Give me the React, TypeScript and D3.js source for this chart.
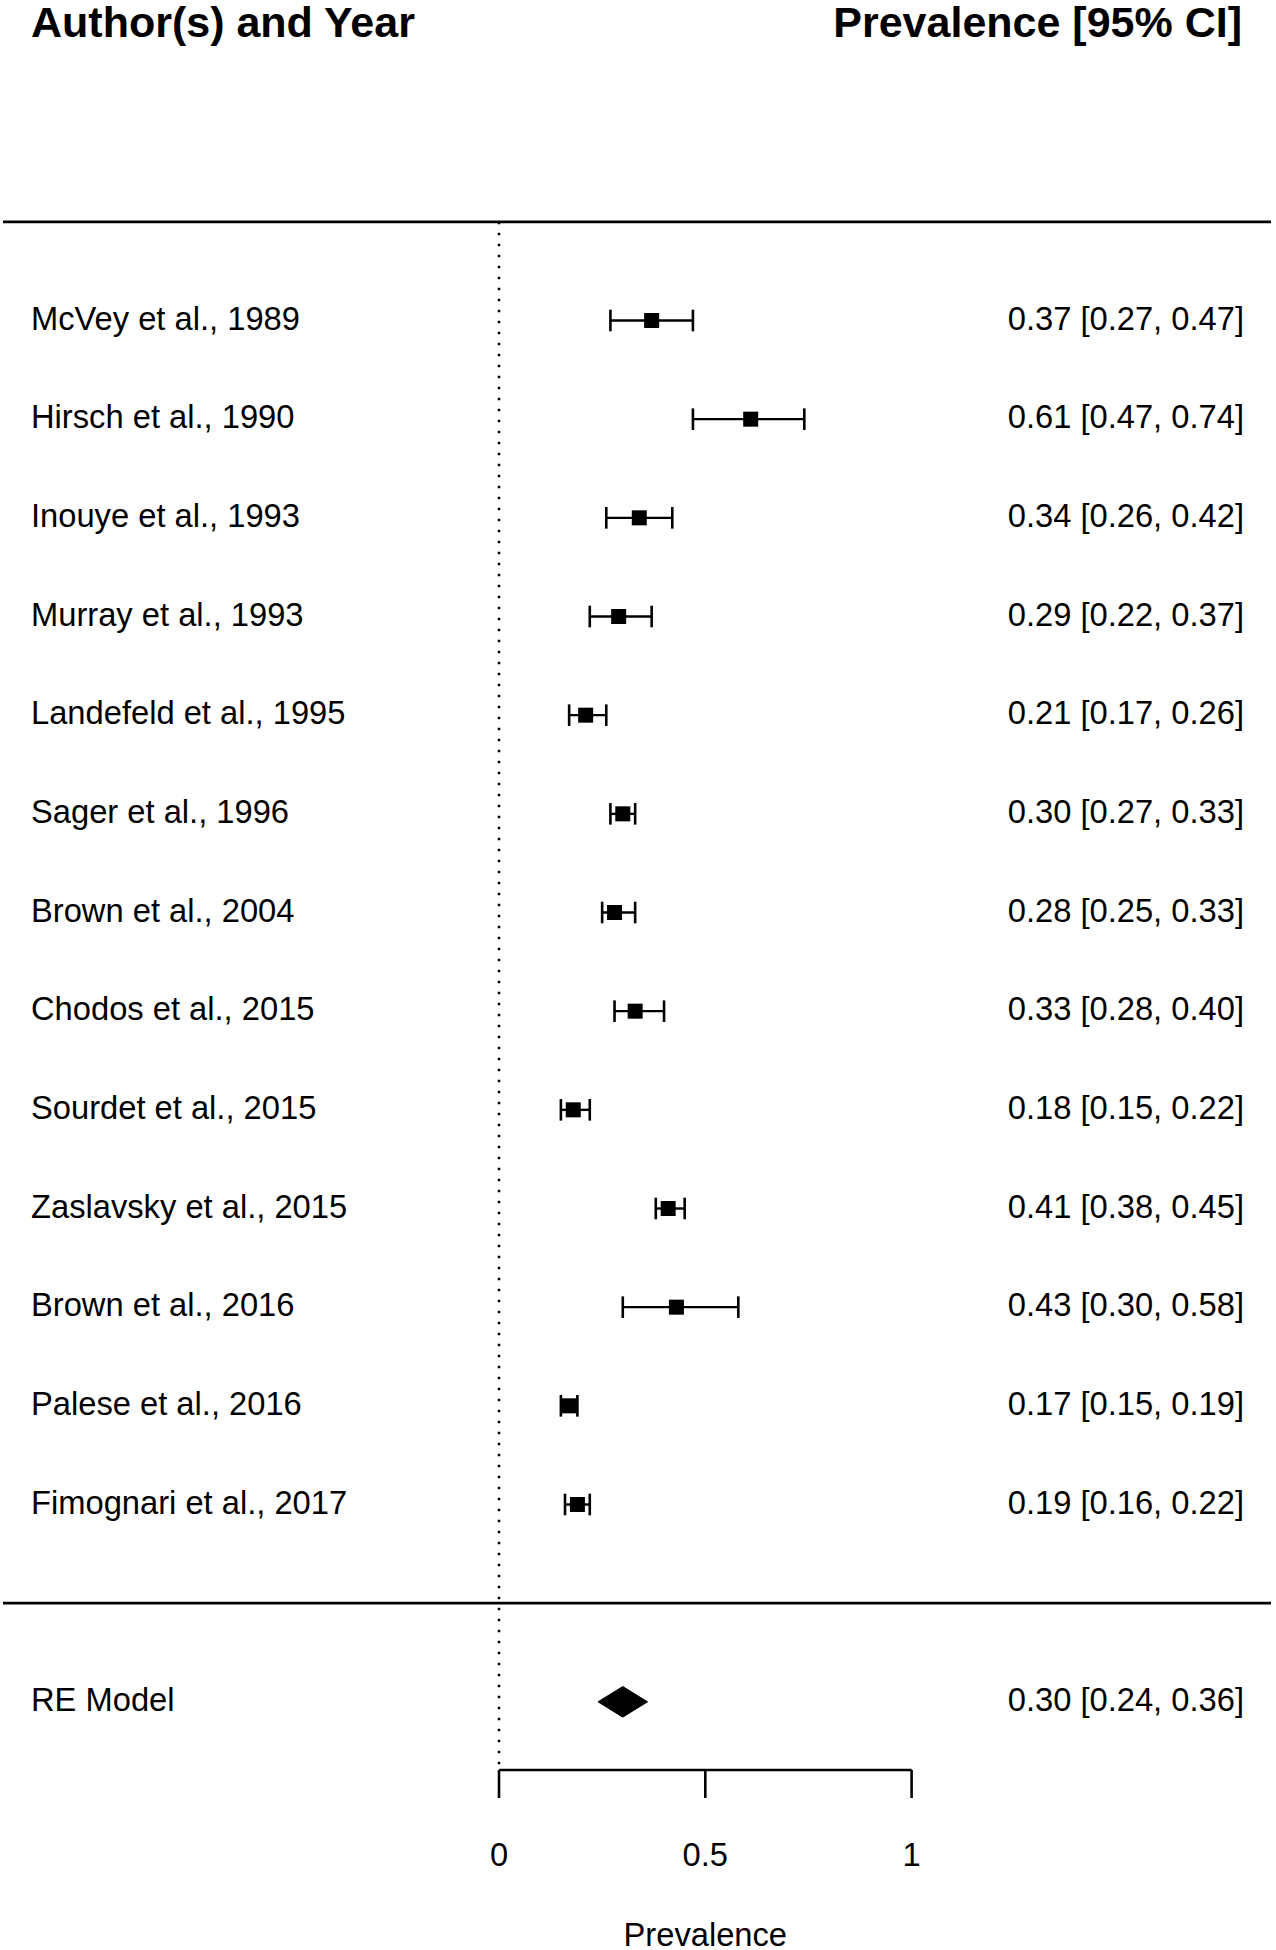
import React from "react";
import * as d3 from "d3";

const studies = [
  "McVey et al., 1989",
  "Hirsch et al., 1990",
  "Inouye et al., 1993",
  "Murray et al., 1993",
  "Landefeld et al., 1995",
  "Sager et al., 1996",
  "Brown et al., 2004",
  "Chodos et al., 2015",
  "Sourdet et al., 2015",
  "Zaslavsky et al., 2015",
  "Brown et al., 2016",
  "Palese et al., 2016",
  "Fimognari et al., 2017",
];
const estimates = [0.37, 0.61, 0.34, 0.29, 0.21, 0.30, 0.28, 0.33, 0.18, 0.41, 0.43, 0.17, 0.19];
const lowers = [0.27, 0.47, 0.26, 0.22, 0.17, 0.27, 0.25, 0.28, 0.15, 0.38, 0.30, 0.15, 0.16];
const uppers = [0.47, 0.74, 0.42, 0.37, 0.26, 0.33, 0.33, 0.40, 0.22, 0.45, 0.58, 0.19, 0.22];
const reModel = { label: "RE Model", est: 0.30, lo: 0.24, hi: 0.36 };
const xTicks = [0, 0.5, 1];
const xTickLabels = ["0", "0.5", "1"];

const W = 1276;
const H = 1950;
const FONT = "'Liberation Sans', Arial, Helvetica, sans-serif";

export default function App() {
  const k = studies.length;
  const x = d3.scaleLinear().domain([0, 1]).range([499, 911.6]);
  // rows: study i at row k - i, RE model at row -1
  const y = d3.scaleLinear().domain([13, 1]).range([320.5, 1504.5]);
  const fmt = d3.format(".2f");
  const axisY = 1770;
  const sq = 15;
  const capH = 10.8;
  const lw = 2.4;
  const leftX = 31;
  const rightX = 1244;
  const fs = 32.7;
  const tOff = 9;

  const reY = y(-1);
  const diamond = d3.line()([
    [x(reModel.lo), reY],
    [x(reModel.est), reY - 15.3],
    [x(reModel.hi), reY],
    [x(reModel.est), reY + 15.3],
  ]) + "Z";

  return (
    <svg
      width={W}
      height={H}
      style={{ position: "absolute", left: 0, top: 0, background: "#fff" }}
      fontFamily={FONT}
    >
      <rect x={0} y={0} width={W} height={H} fill="#fff" />
      {/* headers */}
      <text x={leftX} y={37} fontSize={43} fontWeight="bold" fill="#000">
        Author(s) and Year
      </text>
      <text x={1242} y={37} fontSize={43} fontWeight="bold" fill="#000" textAnchor="end">
        Prevalence [95% CI]
      </text>

      {/* horizontal separator lines */}
      <line x1={3} x2={1271} y1={y(k + 1)} y2={y(k + 1)} stroke="#000" strokeWidth={2.8} />
      <line x1={3} x2={1271} y1={y(0)} y2={y(0)} stroke="#000" strokeWidth={2.8} />

      {/* dotted reference line */}
      <line
        x1={x(0)}
        x2={x(0)}
        y1={y(k + 1)}
        y2={axisY}
        stroke="#000"
        strokeWidth={2.5}
        strokeDasharray="2.5 8.5"
      />

      {studies.map((s, i) => {
        const row = k - i;
        const cy = y(row);
        return (
          <g key={s}>
            <text x={leftX} y={cy + tOff} fontSize={fs} fill="#000">
              {s}
            </text>
            <text x={rightX} y={cy + tOff} fontSize={fs} fill="#000" textAnchor="end">
              {`${fmt(estimates[i])} [${fmt(lowers[i])}, ${fmt(uppers[i])}]`}
            </text>
            <line x1={x(lowers[i])} x2={x(uppers[i])} y1={cy} y2={cy} stroke="#000" strokeWidth={lw} />
            <line x1={x(lowers[i])} x2={x(lowers[i])} y1={cy - capH} y2={cy + capH} stroke="#000" strokeWidth={2.6} />
            <line x1={x(uppers[i])} x2={x(uppers[i])} y1={cy - capH} y2={cy + capH} stroke="#000" strokeWidth={2.6} />
            <rect x={x(estimates[i]) - sq / 2} y={cy - sq / 2} width={sq} height={sq} fill="#000" />
          </g>
        );
      })}

      {/* RE model */}
      <text x={leftX} y={reY + tOff} fontSize={fs} fill="#000">
        {reModel.label}
      </text>
      <text x={rightX} y={reY + tOff} fontSize={fs} fill="#000" textAnchor="end">
        {`${fmt(reModel.est)} [${fmt(reModel.lo)}, ${fmt(reModel.hi)}]`}
      </text>
      <path d={diamond} fill="#000" stroke="#000" strokeWidth={1} />

      {/* x axis */}
      <line x1={x(0)} x2={x(1)} y1={axisY} y2={axisY} stroke="#000" strokeWidth={2.6} />
      {xTicks.map((t, i) => (
        <g key={t}>
          <line x1={x(t)} x2={x(t)} y1={axisY} y2={axisY + 28} stroke="#000" strokeWidth={2.6} />
          <text x={x(t)} y={1866} fontSize={fs} fill="#000" textAnchor="middle">
            {xTickLabels[i]}
          </text>
        </g>
      ))}
      <text x={x(0.5)} y={1946} fontSize={fs} fill="#000" textAnchor="middle">
        Prevalence
      </text>
    </svg>
  );
}
